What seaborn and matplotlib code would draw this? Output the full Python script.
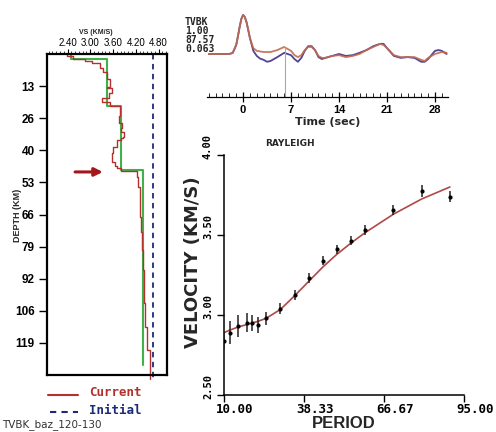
import numpy as np
import pandas as pd
import matplotlib
matplotlib.use("Agg")
import matplotlib.pyplot as plt
import matplotlib.transforms as mtrans
from matplotlib.lines import Line2D
import seaborn as sns

# ---------------- data ----------------
# Shear-velocity model (layer tops in km, Vs in km/s)
current_top = [0, 1.0, 2.1, 3.0, 3.6, 5.6, 7.6, 10.1, 13.4, 13.8, 15.9, 17.9, 19.6,
               21.2, 25.4, 28.2, 30.3, 32.0, 34.0, 34.4, 35.3, 38.1, 40.6, 44.3, 46.0,
               46.8, 48.0, 50.5, 54.6, 67.0, 73.2, 80.6, 88.9, 102.5, 112.4, 121.9]
current_vs = [2.38, 2.55, 2.86, 3.04, 3.26, 3.33, 3.44, 3.52, 3.44, 3.56, 3.50, 3.31, 3.52,
              3.78, 3.76, 3.84, 3.80, 3.89, 3.86, 3.80, 3.70, 3.61, 3.56, 3.66, 3.71,
              3.82, 4.22, 4.26, 4.30, 4.33, 4.36, 4.39, 4.41, 4.45, 4.50, 4.57]
current_base = 133.7

smooth_top = [0, 2.2, 21.2, 47.5]
smooth_vs = [2.50, 3.45, 3.80, 4.38]
smooth_base = 128.0

initial_vs = 4.65
moho_depth = 48.5

vs_ticks = [2.40, 3.00, 3.60, 4.20, 4.80]
depth_ticks = [13.2, 26.4, 39.6, 52.8, 66.0, 79.2, 92.4, 105.6, 118.8]

# Receiver-function traces (time in s, normalized amplitude)
obs_t = [-5, -2, -1.5, -1, -0.75, -0.5, -0.25, 0, 0.25, 0.5, 0.75, 1, 1.5, 2, 3, 4, 5, 6,
         7, 7.5, 8, 8.5, 9, 9.5, 10, 10.5, 11, 11.5, 12, 13, 14, 15, 16, 17, 18, 19, 20,
         20.5, 21, 22, 23, 24, 25, 26, 26.5, 27, 28, 29, 29.7]
obs_amp = [0, 0, 0.03, 0.23, 0.45, 0.69, 0.90, 1.00, 0.95, 0.82, 0.62, 0.41, 0.15, 0.08,
           0.05, 0.05, 0.10, 0.18, 0.08, -0.03, -0.08, -0.03, 0.10, 0.18, 0.18, 0.10,
           -0.05, -0.10, -0.10, -0.05, -0.03, -0.08, -0.05, 0, 0.10, 0.18, 0.26, 0.23,
           0.15, -0.03, -0.08, -0.08, -0.08, -0.15, -0.18, -0.10, 0, 0.05, 0.03]
syn_t = [-5, -2, -1.5, -1, -0.75, -0.5, -0.25, 0, 0.25, 0.5, 0.75, 1, 1.5, 2, 2.5, 3, 3.5,
         4, 5, 6, 6.5, 7, 7.5, 8, 8.5, 9, 9.5, 10, 10.5, 11, 11.5, 12, 13, 14, 15, 16, 17,
         18, 19, 20, 20.5, 21, 22, 23, 24, 25, 26, 26.5, 27, 28, 28.5, 29, 29.7]
syn_amp = [0, 0, 0.03, 0.23, 0.45, 0.69, 0.90, 1.00, 0.95, 0.82, 0.62, 0.41, 0.08, -0.05,
           -0.12, -0.15, -0.20, -0.18, -0.08, 0.03, 0.0, -0.03, -0.13, -0.20, -0.10, 0.08,
           0.20, 0.20, 0.10, -0.08, -0.13, -0.10, -0.05, 0.0, -0.05, -0.03, 0.03, 0.10,
           0.20, 0.26, 0.26, 0.15, -0.05, -0.10, -0.08, -0.10, -0.20, -0.20, -0.13, 0.08,
           0.10, 0.08, 0.0]
marker_time = 6.1
marker_amp = 0.18
time_ticks = [0, 7, 14, 21, 28]

# Rayleigh-wave group velocity dispersion
period = [10, 12, 15, 18, 20, 22, 25, 30, 35, 40, 45, 50, 55, 60, 70, 80, 90]
vel_obs = [2.84, 2.89, 2.93, 2.952, 2.948, 2.94, 2.98, 3.04, 3.125, 3.23, 3.34, 3.41,
           3.465, 3.53, 3.655, 3.775, 3.74]
vel_err = [0.055, 0.07, 0.07, 0.06, 0.05, 0.05, 0.04, 0.035, 0.03, 0.03, 0.03, 0.03,
           0.03, 0.03, 0.03, 0.035, 0.035]
vel_pred = [2.89, 2.905, 2.925, 2.94, 2.95, 2.96, 2.98, 3.035, 3.12, 3.21, 3.30, 3.38,
            3.45, 3.515, 3.63, 3.725, 3.80]
period_ticks = [10.00, 38.33, 66.67, 95.00]
vel_ticks = [2.50, 3.00, 3.50, 4.00]

# ---------------- style ----------------
sns.set_theme(style="white")
plt.rcParams["font.family"] = ["Liberation Sans", "DejaVu Sans"]

RED = "#b3302c"
GREEN = "#3fb24a"
NAVY = "#1c2a78"
BOLD_MONO = ["DejaVu Sans Mono", "DejaVu Sans"]

W, H = 496, 432
fig = plt.figure(figsize=(W / 100, H / 100), dpi=100)
fig.patch.set_facecolor("white")


def px_axes(x0, y0, x1, y1):
    return fig.add_axes([x0 / W, 1 - y1 / H, (x1 - x0) / W, (y1 - y0) / H])


def shift_labels(labels, dx_px, dy_px):
    off = mtrans.ScaledTranslation(dx_px / 100, dy_px / 100, fig.dpi_scale_trans)
    for lab in labels:
        lab.set_transform(lab.get_transform() + off)


def step_profile(tops, vs, base):
    bounds = list(tops[1:]) + [base]
    xs, ys = [], []
    for v, t, b in zip(vs, tops, bounds):
        xs += [v, v]
        ys += [t, b]
    return pd.DataFrame({"vs": xs, "depth": ys})


# ---------------- velocity model panel ----------------
ax1 = px_axes(47, 54, 167, 375)
ax1.set_facecolor("white")
cur = step_profile(current_top, current_vs, current_base)
smo = step_profile(smooth_top, smooth_vs, smooth_base)
ini = pd.DataFrame({"vs": [initial_vs, initial_vs], "depth": [0, current_base]})

sns.lineplot(data=ini, x="vs", y="depth", sort=False, estimator=None, ax=ax1,
             color=NAVY, lw=1.3, linestyle=(0, (3, 2.5)), clip_on=False)
sns.lineplot(data=smo, x="vs", y="depth", sort=False, estimator=None, ax=ax1,
             color=GREEN, lw=1.5)
sns.lineplot(data=cur, x="vs", y="depth", sort=False, estimator=None, ax=ax1,
             color=RED, lw=1.0, clip_on=False)

ax1.annotate("", xy=(3.33, moho_depth), xytext=(2.60, moho_depth),
             arrowprops=dict(arrowstyle="-|>", color="#a5161a", lw=2.2,
                             mutation_scale=12, shrinkA=0, shrinkB=0),
             annotation_clip=False)

ax1.set_xlim(1.86, 5.02)
ax1.set_ylim(132, 0)
ax1.xaxis.tick_top()
ax1.set_xticks(vs_ticks)
ax1.set_xticklabels([f"{v:.2f}" for v in vs_ticks], fontsize=7)
ax1.set_xticks(np.arange(1.9, 5.01, 0.1), minor=True)
ax1.set_yticks(depth_ticks)
ax1.set_yticklabels([f"{d:.0f}" for d in depth_ticks], fontweight="bold", fontsize=8.5)
ax1.tick_params(axis="x", which="major", direction="out", length=3.5, width=0.8, pad=1,
                top=True, bottom=False, colors="black")
ax1.tick_params(axis="x", which="minor", direction="out", length=2, width=0.6,
                top=True, bottom=False)
ax1.tick_params(axis="y", which="major", direction="out", length=6, width=1.0, pad=3,
                left=True, colors="black")
ax1.set_xlabel("")
ax1.set_ylabel("")
for s in ax1.spines.values():
    s.set_linewidth(1.6)
    s.set_color("black")

fig.text(96 / W, 1 - 33 / H, "VS (KM/S)", fontsize=5, fontweight="bold",
         ha="center", va="center")
fig.text(17 / W, 1 - 215 / H, "DEPTH (KM)", fontsize=6.5, fontweight="bold",
         ha="center", va="center", rotation=90)

# legend for the model panel
fig.add_artist(Line2D([48 / W, 78 / W], [1 - 395 / H] * 2, color=RED, lw=1.5))
fig.add_artist(Line2D([50 / W, 78 / W], [1 - 412 / H] * 2, color=NAVY, lw=1.5,
                      linestyle=(0, (3, 2.5))))
fig.text(89 / W, 1 - 392 / H, "Current", fontsize=9, fontweight="bold",
         fontfamily=BOLD_MONO, color=RED, ha="left", va="center")
fig.text(89 / W, 1 - 411 / H, "Initial", fontsize=9, fontweight="bold",
         fontfamily=BOLD_MONO, color=NAVY, ha="left", va="center")
fig.text(2 / W, 1 - 425 / H, "TVBK_baz_120-130", fontsize=7.5,
         fontfamily=["DejaVu Sans"], color="#333333", ha="left", va="center")

# ---------------- receiver function panel ----------------
ax2 = px_axes(207, 8, 448, 97)
ax2.set_facecolor("none")
rf = pd.concat([
    pd.DataFrame({"t": syn_t, "amp": syn_amp, "trace": "synthetic"}),
    pd.DataFrame({"t": obs_t, "amp": obs_amp, "trace": "observed"}),
])
sns.lineplot(data=rf, x="t", y="amp", hue="trace", estimator=None, ax=ax2,
             palette={"observed": "#c46a4c", "synthetic": "#3d2f88"},
             lw=1.3, alpha=0.9, legend=False)
ylo, yhi = -1.103, 1.179
ax2.set_xlim(-5.26, 29.9)
ax2.set_ylim(ylo, yhi)
ax2.axvline(marker_time, ymin=0, ymax=(marker_amp - ylo) / (yhi - ylo),
            color="#a8a8a8", lw=0.8)
for side in ("left", "top", "right"):
    ax2.spines[side].set_visible(False)
ax2.spines["bottom"].set_color("black")
ax2.spines["bottom"].set_linewidth(0.9)
ax2.set_yticks([])
ax2.set_xticks(time_ticks)
ax2.set_xticklabels([str(t) for t in time_ticks], fontweight="bold", fontsize=8)
ax2.set_xticks(np.arange(-5, 30, 1), minor=True)
ax2.tick_params(axis="x", which="major", direction="inout", length=7, width=0.9,
                pad=2, bottom=True, colors="black")
ax2.tick_params(axis="x", which="minor", direction="in", length=3, width=0.7,
                bottom=True)
ax2.set_xlabel("")
ax2.set_ylabel("")
fig.text(328 / W, 1 - 122 / H, "Time (sec)", fontsize=8, fontweight="bold",
         fontfamily=["DejaVu Sans"], ha="center", va="center")
for i, s in enumerate(["TVBK", "1.00", "87.57", "0.063"]):
    fig.text(185 / W, 1 - (22 + 9 * i) / H, s, fontsize=7, fontweight="bold",
             fontfamily=BOLD_MONO, ha="left", va="center")

# ---------------- dispersion panel ----------------
ax3 = px_axes(224, 155, 464, 395)
ax3.set_facecolor("none")
disp = pd.DataFrame({"period": period, "obs": vel_obs, "err": vel_err, "pred": vel_pred})
sns.lineplot(data=disp, x="period", y="pred", estimator=None, ax=ax3,
             color="#b04848", lw=1.2)
ax3.errorbar(disp["period"], disp["obs"], yerr=disp["err"], fmt="o", ms=2,
             color="black", ecolor="#222222", elinewidth=1.1, capsize=0, zorder=5)
ax3.set_xlim(10, 95)
ax3.set_ylim(2.5, 4.0)
for side in ("top", "right"):
    ax3.spines[side].set_visible(False)
for side in ("left", "bottom"):
    ax3.spines[side].set_color("black")
    ax3.spines[side].set_linewidth(1.1)
ax3.set_xticks(period_ticks)
ax3.set_xticklabels([f"{p:.2f}" for p in period_ticks], fontsize=9,
                    fontweight="bold", fontfamily=BOLD_MONO)
ax3.set_yticks(vel_ticks)
ax3.set_yticklabels([f"{v:.2f}" for v in vel_ticks], fontsize=7.5, fontweight="bold",
                    fontfamily=BOLD_MONO, rotation=90, va="center")
ax3.tick_params(axis="y", which="major", direction="out", length=5, width=1.0,
                pad=3, left=True, colors="black")
ax3.tick_params(axis="x", which="major", direction="out", length=5, width=1.0,
                pad=1, bottom=True, colors="black")
shift_labels(ax3.get_xticklabels(), 11, 0)
shift_labels(ax3.get_yticklabels(), 0, 8)
ax3.set_xlabel("")
ax3.set_ylabel("")
fig.text(344 / W, 1 - 424 / H, "PERIOD", fontsize=12, fontweight="bold",
         ha="center", va="center")
fig.text(193 / W, 1 - 262 / H, "VELOCITY (KM/S)", fontsize=13, fontweight="bold",
         fontfamily=["DejaVu Sans"], ha="center", va="center", rotation=90)
fig.text(265 / W, 1 - 143 / H, "RAYLEIGH", fontsize=6.5, fontweight="bold",
         fontfamily=["DejaVu Sans"], ha="left", va="center")

fig.savefig("out.png", dpi=100, facecolor="white")
